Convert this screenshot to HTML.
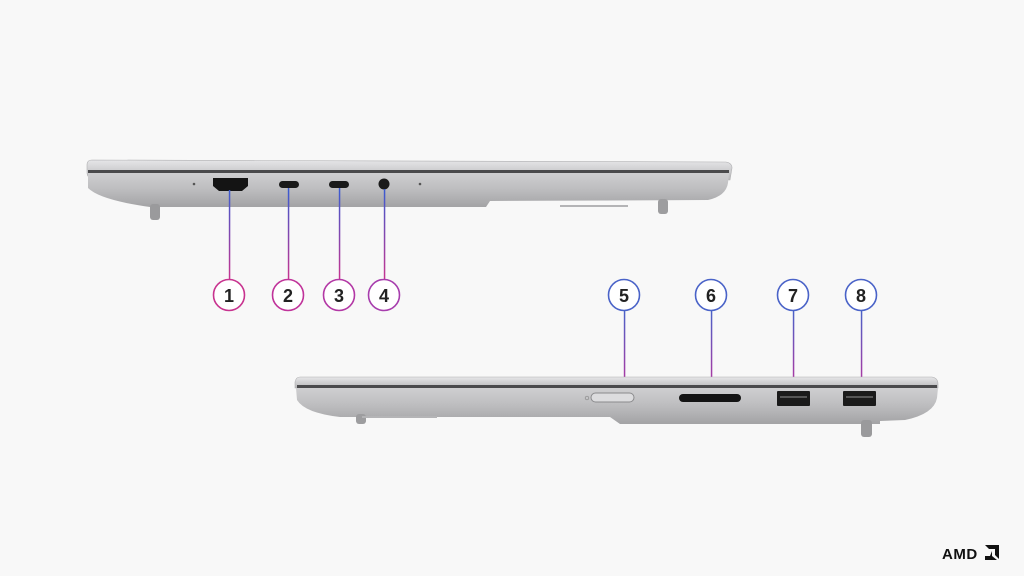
<!DOCTYPE html>
<html><head><style>
html,body{margin:0;padding:0;background:#f8f8f8;width:1024px;height:576px;overflow:hidden}
</style></head><body>
<svg width="1024" height="576" viewBox="0 0 1024 576" xmlns="http://www.w3.org/2000/svg" font-family="Liberation Sans, sans-serif">
<defs>
<linearGradient id="body" x1="0" y1="0" x2="0" y2="1">
<stop offset="0" stop-color="#cfcfd1"/><stop offset="0.5" stop-color="#bcbcbe"/><stop offset="1" stop-color="#a3a3a5"/>
</linearGradient>
<linearGradient id="lid" x1="0" y1="0" x2="0" y2="1">
<stop offset="0" stop-color="#e6e6e8"/><stop offset="1" stop-color="#b8b8ba"/>
</linearGradient>
<linearGradient id="lnA" gradientUnits="userSpaceOnUse" x1="0" y1="190" x2="0" y2="280">
<stop offset="0" stop-color="#3b5bd0"/><stop offset="1" stop-color="#c8338f"/>
</linearGradient>
<linearGradient id="lnB" gradientUnits="userSpaceOnUse" x1="0" y1="311" x2="0" y2="396">
<stop offset="0" stop-color="#4a62c8"/><stop offset="1" stop-color="#c0309a"/>
</linearGradient>
</defs>

<!-- top laptop -->
<path d="M92 160 L726 162 Q732 163 732 168 L730 180 L92 178 Q87 178 87 172 L87 165 Q87 160 92 160Z" fill="url(#lid)" stroke="#b0b0b2" stroke-width="0.6"/>
<rect x="88" y="170" width="641" height="3" fill="#4a4a4c"/>
<path d="M88 173 L729 173 L728 183 Q726 196 708 200 L490 201 L486 207 L150 207 Q100 200 88 188Z" fill="url(#body)"/>
<rect x="150" y="204" width="10" height="16" rx="3" fill="#9a9a9c"/>
<rect x="658" y="199" width="10" height="15" rx="3" fill="#9d9d9f"/>
<rect x="560" y="205" width="68" height="2" fill="#b4b4b6"/>
<!-- ports top -->
<path d="M213 178 L248 178 L248 186 L242 191 L219 191 L213 186Z" fill="#141414"/>
<circle cx="194" cy="184" r="1.3" fill="#555"/>
<rect x="279" y="181" width="20" height="7" rx="3.5" fill="#1a1a1a"/>
<rect x="329" y="181" width="20" height="7" rx="3.5" fill="#1a1a1a"/>
<circle cx="384" cy="184" r="5.5" fill="#1a1a1a"/>
<circle cx="420" cy="184" r="1.3" fill="#555"/>

<!-- top connectors -->
<g fill="url(#lnA)">
<rect x="228.8" y="190" width="1.5" height="90"/>
<rect x="287.8" y="188" width="1.5" height="92"/>
<rect x="338.8" y="188" width="1.5" height="92"/>
<rect x="383.8" y="189" width="1.5" height="91"/>
</g>
<g fill="url(#lnB)">
<rect x="623.8" y="310" width="1.5" height="84"/>
<rect x="710.8" y="310" width="1.5" height="86"/>
<rect x="792.8" y="310" width="1.5" height="82"/>
<rect x="860.8" y="310" width="1.5" height="82"/>
</g>
<g fill="#fff" stroke-width="1.6">
<circle cx="229" cy="295" r="15.5" stroke="#c8338f"/>
<circle cx="288" cy="295" r="15.5" stroke="#c0339a"/>
<circle cx="339" cy="295" r="15.5" stroke="#b338a5"/>
<circle cx="384" cy="295" r="15.5" stroke="#a73dad"/>
<circle cx="624" cy="295" r="15.5" stroke="#4a63c8"/>
<circle cx="711" cy="295" r="15.5" stroke="#4a63c8"/>
<circle cx="793" cy="295" r="15.5" stroke="#4a63c8"/>
<circle cx="861" cy="295" r="15.5" stroke="#4a63c8"/>
</g>
<g font-size="18" font-weight="bold" fill="#222" text-anchor="middle">
<text x="229" y="302">1</text><text x="288" y="302">2</text><text x="339" y="302">3</text><text x="384" y="302">4</text>
<text x="624" y="302">5</text><text x="711" y="302">6</text><text x="793" y="302">7</text><text x="861" y="302">8</text>
</g>

<!-- bottom laptop -->
<path d="M300 377 L932 377 Q938 378 938 384 L938 388 L295 388 L295 382 Q296 377 300 377Z" fill="url(#lid)" stroke="#b0b0b2" stroke-width="0.6"/>
<rect x="297" y="385" width="640" height="3" fill="#4a4a4c"/>
<path d="M296 388 L938 388 L937 398 Q934 414 905 420 L880 421 L880 424 L620 424 L610 417 L340 417 Q305 413 297 400Z" fill="url(#body)"/>
<rect x="356" y="414" width="10" height="10" rx="3" fill="#9d9d9f"/>
<rect x="861" y="420" width="11" height="17" rx="3" fill="#9a9a9c"/>
<rect x="362" y="416" width="75" height="2" fill="#b4b4b6"/>
<!-- ports bottom -->
<rect x="591" y="393" width="43" height="9" rx="4.5" fill="#dcdcde" stroke="#8a8a8c" stroke-width="1"/>
<circle cx="587" cy="398" r="1.8" fill="none" stroke="#888" stroke-width="0.7"/>
<rect x="679" y="394" width="62" height="8" rx="4" fill="#141414"/>
<rect x="777" y="391" width="33" height="15" rx="1" fill="#1a1a1a"/>
<rect x="843" y="391" width="33" height="15" rx="1" fill="#1a1a1a"/>
<rect x="780" y="396" width="27" height="2" fill="#555"/>
<rect x="846" y="396" width="27" height="2" fill="#555"/>

<!-- AMD logo -->
<text x="942" y="559" font-size="15" font-weight="bold" fill="#111" letter-spacing="0.5">AMD</text>
<path d="M985 546 L999 546 L999 560 L995 556 L995 550 L989 550Z M992 552 L992 557 L997 561 L985 561 L985 557 L990 557Z" fill="#111" transform="translate(0,-1)"/>
</svg>
</body></html>
